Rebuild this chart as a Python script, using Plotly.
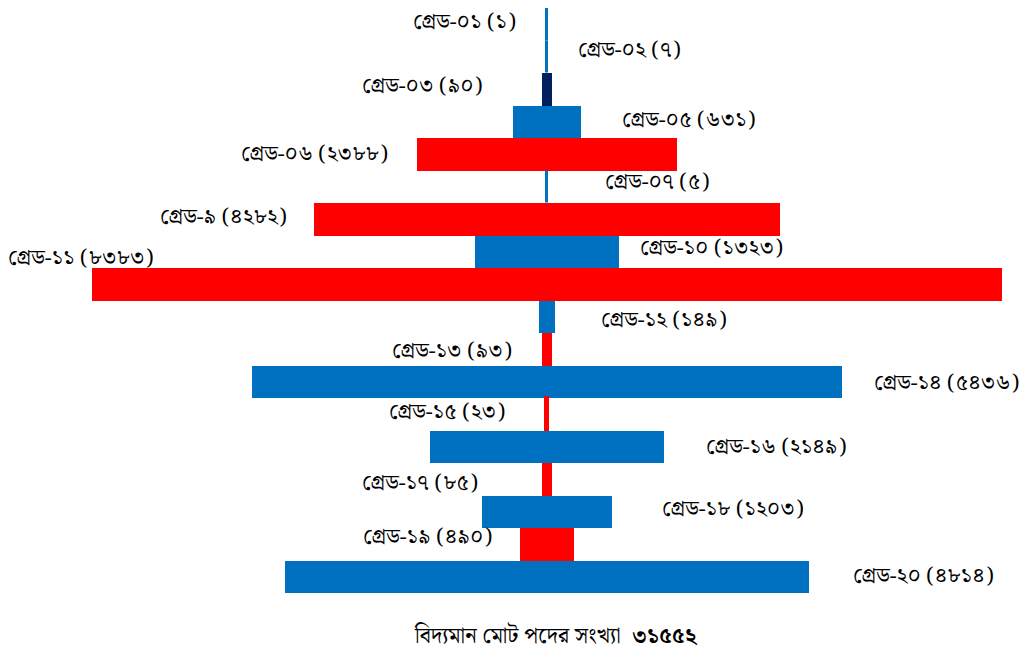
import plotly.graph_objects as go

# Posts per grade (the bottom line gives the total)
grades = ["গ্রেড-০১", "গ্রেড-০২", "গ্রেড-০৩", "গ্রেড-০৫", "গ্রেড-০৬", "গ্রেড-০৭",
          "গ্রেড-৯", "গ্রেড-১০", "গ্রেড-১১", "গ্রেড-১২", "গ্রেড-১৩", "গ্রেড-১৪",
          "গ্রেড-১৫", "গ্রেড-১৬", "গ্রেড-১৭", "গ্রেড-১৮", "গ্রেড-১৯", "গ্রেড-২০"]
posts = [1, 7, 90, 631, 2388, 5, 4282, 1323, 8383, 149, 93, 5436,
         23, 2149, 85, 1203, 490, 4814]
total_label = "বিদ্যমান মোট পদের সংখ্যা"

BLUE, RED, NAVY = "#0070C0", "#FF0000", "#002060"
colors = [BLUE, BLUE, NAVY, BLUE, RED, BLUE, RED, BLUE, RED, BLUE, RED, BLUE,
          RED, BLUE, RED, BLUE, RED, BLUE]
# which side of the bar each label sits on, its gap and vertical nudge in px
sides = ["L", "R", "L", "R", "L", "R", "L", "R", "L", "R", "L", "R",
         "L", "R", "L", "R", "L", "R"]
gaps = [29, 29, 57, 39, 27, 56, 25, 19, 0, 44, 28, 30, 39, 40, 62, 48, 26, 42]
nudges = [2, 6, 3, 1, 0, 4, 2, 3, 0, -4, -2, -2, 2, -1, -4, 2, 7, 0]

BN_DIGITS = str.maketrans("0123456789", "০১২৩৪৫৬৭৮৯")
def bn(n):
    return str(n).translate(BN_DIGITS)

FONT = "Noto Serif Bengali, FreeSerif, serif"

rows = list(range(len(grades)))
fig = go.Figure(go.Bar(
    y=rows, x=posts, base=[-v / 2 for v in posts], orientation="h",
    marker=dict(color=colors,
                line=dict(color=colors, width=[3 if v < 30 else 0 for v in posts])),
    hoverinfo="skip",
))

for i, (g, v, s, gap, dy) in enumerate(zip(grades, posts, sides, gaps, nudges)):
    text = f"{g} ({bn(v)})"
    if g == "গ্রেড-১১":
        # widest bar: label sits above its left end
        fig.add_annotation(x=-v / 2, y=i, text=text, showarrow=False,
                           xanchor="left", yanchor="middle", xshift=-86, yshift=26)
        continue
    if s == "L":
        fig.add_annotation(x=-v / 2, y=i, text=text, showarrow=False,
                           xanchor="right", xshift=-gap, yshift=dy)
    else:
        fig.add_annotation(x=v / 2, y=i, text=text, showarrow=False,
                           xanchor="left", xshift=gap, yshift=dy)

fig.add_annotation(xref="paper", yref="paper", x=0.545, y=-0.075,
                   text=f"{total_label}  <b>{bn(sum(posts))}</b>", showarrow=False,
                   xanchor="center", yanchor="middle", font=dict(size=22))

fig.update_layout(
    width=1021, height=654,
    margin=dict(l=0, r=0, t=8, b=61),
    plot_bgcolor="white", paper_bgcolor="white",
    bargap=0, showlegend=False,
    font=dict(family=FONT, size=22, color="black"),
    xaxis=dict(range=[-5034, 4362], visible=False),
    yaxis=dict(range=[17.5, -0.5], visible=False),
)

fig.write_html("out.html")
